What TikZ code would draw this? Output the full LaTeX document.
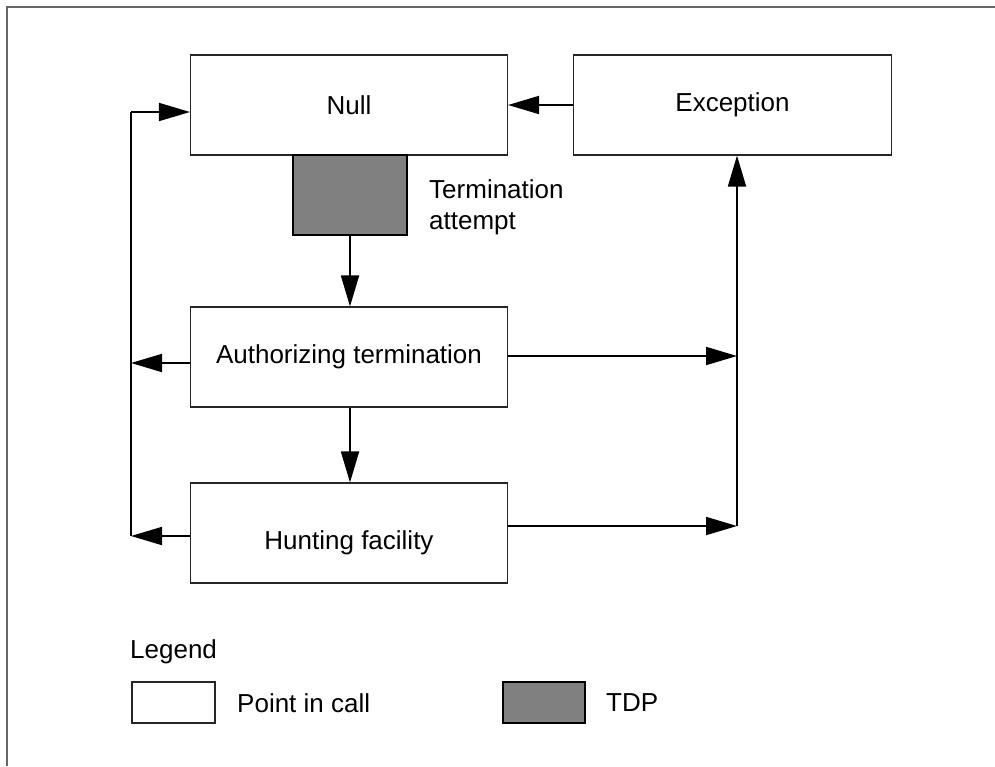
\documentclass[tikz,border=0pt]{standalone}
\usepackage{fontspec}
\setmainfont{Liberation Sans}
\usetikzlibrary{arrows.meta}
\begin{document}
\begin{tikzpicture}[x=1pt,y=-1pt,
  box/.style={draw=black!85,line width=1.1pt,fill=white,minimum width=317pt,minimum height=100pt,inner sep=0pt,font=\fontsize{26}{31}\selectfont},
  tdp/.style={draw=black,line width=1.6pt,fill=black!50,inner sep=0pt},
  lbl/.style={inner sep=0pt,font=\fontsize{26}{31}\selectfont,align=left},
  arr/.style={line width=1.8pt,-{Triangle[length=31pt,width=18pt]}},
  ln/.style={line width=1.8pt}]
\useasboundingbox (0,0) rectangle (995,766);
\draw[black!60,line width=1.3pt] (7,766) -- (7,7) -- (995,7);
% boxes
\node[box] (null) at (349,105) {Null};
\node[box,minimum width=318pt] (exc) at (732.5,105) {Exception};
\node[tdp,minimum width=114pt,minimum height=80pt] (tdp) at (350,195) {};
\node[lbl,anchor=west] (tlabel) at (429,207.5) {Termination\\attempt};
\node[box] (auth) at (349,357) {Authorizing termination};
\node[box] (hunt) at (349,533) {};
\node[lbl] (huntlabel) at (349,543) {Hunting facility};
% connectors
\draw[arr] (exc.west) -- (null.east);
\draw[arr] (tdp.south) -- (tdp.south |- auth.north);
\draw[arr] (auth.south -| tdp.south) -- (tdp.south |- hunt.north);
% left collector
\coordinate (lt) at (131,112);
\coordinate (lb) at (131,536);
\coordinate (la) at (131,363);
\draw[ln] (lb) -- (lt);
\draw[arr] (lt) -- (null.west |- lt);
\draw[arr] (auth.west |- la) -- (la);
\draw[arr] (hunt.west |- lb) -- (lb);
% right collector
\coordinate (ra) at (737,356);
\coordinate (rb) at (737,526);
\draw[arr] (auth.east |- ra) -- (ra);
\draw[arr] (hunt.east |- rb) -- (rb);
\draw[arr] (rb) -- (rb |- exc.south);
% legend
\node[lbl,anchor=west] (legend) at (130,652) {Legend};
\node[draw=black!85,line width=1.1pt,minimum width=83pt,minimum height=41pt,inner sep=0pt] (lpic) at (173.5,702.5) {};
\node[lbl,anchor=west] (lpictext) at (237,703) {Point in call};
\node[tdp,minimum width=82pt,minimum height=41pt] (ltdp) at (544,702.5) {};
\node[lbl,anchor=west] (ltdptext) at (606,703) {TDP};
\end{tikzpicture}
\end{document}
